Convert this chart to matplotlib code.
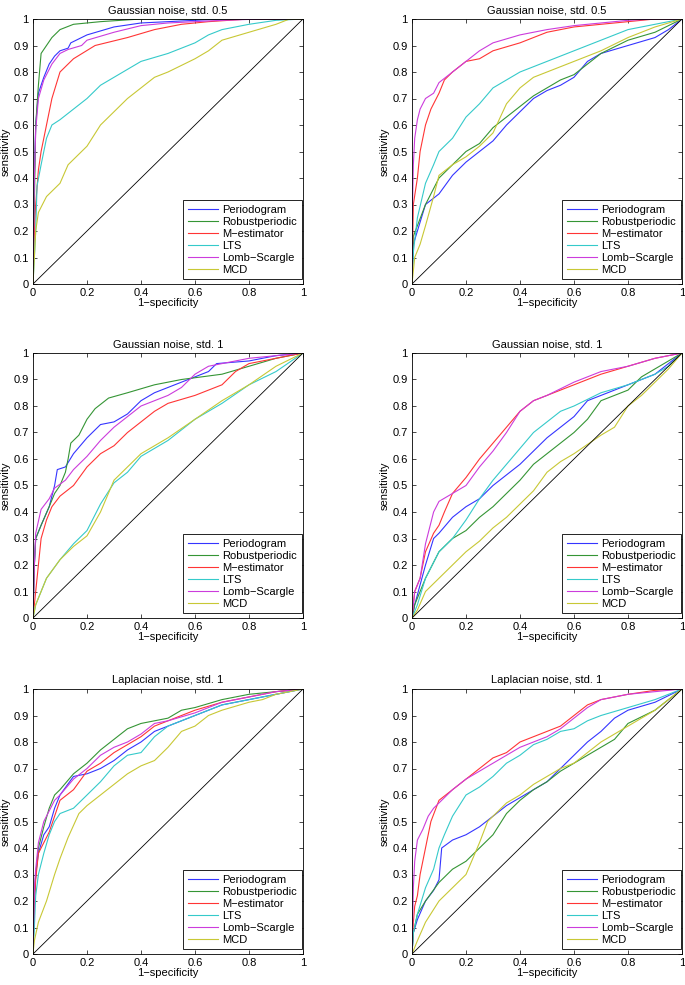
import numpy as np
import matplotlib
matplotlib.use("Agg")
import matplotlib.pyplot as plt

plt.rcParams['font.family'] = ['Liberation Sans', 'DejaVu Sans']

METHODS = ["Periodogram", "Robustperiodic", "M\u2212estimator", "LTS", "Lomb\u2212Scargle", "MCD"]
COLORS = ["#3535ff", "#359535", "#ff3535", "#35caca", "#cc3cdc", "#c8c835"]
TITLES = ["Gaussian noise, std. 0.5", "Gaussian noise, std. 0.5",
          "Gaussian noise, std. 1", "Gaussian noise, std. 1",
          "Laplacian noise, std. 1", "Laplacian noise, std. 1"]
X_TICKS = [0, 0.2, 0.4, 0.6, 0.8, 1]
Y_TICKS = [0, 0.1, 0.2, 0.3, 0.4, 0.5, 0.6, 0.7, 0.8, 0.9, 1]

# ---- Panel 1: Gaussian std 0.5 (left) ----
P1_PERIODOGRAM = [(0,0),(0.005,0.4),(0.01,0.6),(0.02,0.72),(0.04,0.78),(0.06,0.83),(0.08,0.86),(0.1,0.88),(0.13,0.89),(0.14,0.91),(0.2,0.94),(0.3,0.97),(0.4,0.985),(0.6,0.995),(0.7,1),(1,1)]
P1_ROBUST = [(0,0),(0.005,0.3),(0.01,0.6),(0.02,0.75),(0.03,0.87),(0.05,0.9),(0.07,0.93),(0.1,0.96),(0.15,0.98),(0.25,0.99),(0.4,1.0),(1,1)]
P1_MEST = [(0,0),(0.005,0.2),(0.01,0.3),(0.02,0.43),(0.03,0.5),(0.05,0.6),(0.07,0.7),(0.1,0.8),(0.15,0.85),(0.23,0.9),(0.35,0.93),(0.45,0.96),(0.55,0.98),(0.65,0.99),(0.8,1),(1,1)]
P1_LTS = [(0,0),(0.005,0.1),(0.01,0.2),(0.015,0.37),(0.03,0.45),(0.05,0.55),(0.07,0.6),(0.1,0.62),(0.15,0.66),(0.2,0.7),(0.25,0.75),(0.3,0.78),(0.4,0.84),(0.5,0.87),(0.6,0.91),(0.65,0.94),(0.7,0.96),(0.8,0.98),(0.9,0.995),(1,1)]
P1_LOMB = [(0,0),(0.005,0.4),(0.01,0.58),(0.02,0.7),(0.04,0.77),(0.07,0.83),(0.1,0.87),(0.13,0.885),(0.18,0.9),(0.2,0.92),(0.3,0.95),(0.4,0.975),(0.5,0.985),(0.7,0.995),(0.85,1),(1,1)]
P1_MCD = [(0,0),(0.005,0.1),(0.01,0.2),(0.02,0.27),(0.05,0.33),(0.1,0.38),(0.13,0.45),(0.2,0.52),(0.25,0.6),(0.3,0.65),(0.35,0.7),(0.4,0.74),(0.45,0.78),(0.5,0.8),(0.6,0.85),(0.65,0.88),(0.7,0.92),(0.8,0.95),(0.9,0.98),(0.95,1),(1,1)]

# ---- Panel 2: Gaussian std 0.5 (right) ----
P2_PERIODOGRAM = [(0,0),(0.005,0.15),(0.02,0.2),(0.05,0.3),(0.1,0.34),(0.15,0.41),(0.2,0.46),(0.25,0.5),(0.3,0.54),(0.35,0.6),(0.4,0.65),(0.45,0.7),(0.5,0.73),(0.55,0.75),(0.6,0.78),(0.65,0.84),(0.7,0.87),(0.8,0.9),(0.9,0.93),(0.95,0.96),(1,1)]
P2_ROBUST = [(0,0),(0.005,0.18),(0.02,0.22),(0.05,0.3),(0.1,0.4),(0.15,0.45),(0.2,0.5),(0.25,0.53),(0.3,0.59),(0.35,0.63),(0.4,0.67),(0.45,0.71),(0.5,0.74),(0.55,0.77),(0.6,0.79),(0.7,0.87),(0.8,0.92),(0.9,0.95),(1,1)]
P2_MEST = [(0,0),(0.005,0.3),(0.02,0.4),(0.03,0.5),(0.05,0.6),(0.07,0.66),(0.1,0.72),(0.12,0.77),(0.15,0.8),(0.2,0.84),(0.25,0.85),(0.3,0.88),(0.4,0.91),(0.5,0.95),(0.6,0.97),(0.7,0.98),(0.8,0.99),(0.9,1),(1,1)]
P2_LTS = [(0,0),(0.005,0.12),(0.02,0.25),(0.05,0.38),(0.08,0.45),(0.1,0.5),(0.15,0.55),(0.2,0.63),(0.25,0.68),(0.3,0.74),(0.4,0.8),(0.5,0.84),(0.6,0.88),(0.7,0.92),(0.8,0.96),(0.9,0.98),(1,1)]
P2_LOMB = [(0,0),(0.002,0.3),(0.005,0.45),(0.01,0.55),(0.02,0.62),(0.03,0.66),(0.05,0.7),(0.08,0.72),(0.1,0.76),(0.15,0.8),(0.2,0.84),(0.25,0.88),(0.3,0.91),(0.4,0.94),(0.5,0.96),(0.6,0.975),(0.7,0.985),(0.8,0.995),(0.9,1),(1,1)]
P2_MCD = [(0,0),(0.01,0.1),(0.03,0.15),(0.05,0.22),(0.08,0.33),(0.1,0.41),(0.15,0.45),(0.2,0.48),(0.25,0.52),(0.3,0.57),(0.35,0.68),(0.4,0.74),(0.45,0.78),(0.5,0.8),(0.55,0.82),(0.6,0.84),(0.7,0.88),(0.8,0.93),(0.9,0.97),(1,1)]

# ---- Panel 3: Gaussian std 1 (left) ----
P3_PERIODOGRAM = [(0,0),(0.005,0.2),(0.01,0.3),(0.03,0.35),(0.06,0.42),(0.08,0.5),(0.09,0.56),(0.12,0.57),(0.15,0.62),(0.2,0.68),(0.25,0.73),(0.3,0.74),(0.35,0.77),(0.4,0.82),(0.45,0.85),(0.5,0.87),(0.6,0.91),(0.65,0.93),(0.68,0.96),(0.8,0.97),(0.9,0.99),(1,1)]
P3_ROBUST = [(0,0),(0.005,0.2),(0.01,0.3),(0.03,0.35),(0.06,0.42),(0.08,0.47),(0.1,0.5),(0.12,0.55),(0.13,0.6),(0.14,0.66),(0.17,0.69),(0.2,0.75),(0.23,0.79),(0.28,0.83),(0.35,0.85),(0.45,0.88),(0.55,0.9),(0.7,0.92),(0.8,0.95),(0.9,0.98),(1,1)]
P3_MEST = [(0,0),(0.01,0.1),(0.02,0.2),(0.03,0.3),(0.05,0.37),(0.07,0.42),(0.1,0.46),(0.15,0.5),(0.2,0.57),(0.25,0.62),(0.3,0.65),(0.35,0.7),(0.4,0.74),(0.45,0.78),(0.5,0.81),(0.6,0.84),(0.7,0.88),(0.75,0.93),(0.8,0.96),(0.9,0.98),(1,1)]
P3_LTS = [(0,0),(0.01,0.05),(0.05,0.15),(0.1,0.22),(0.15,0.28),(0.2,0.33),(0.25,0.43),(0.3,0.51),(0.35,0.55),(0.4,0.61),(0.5,0.67),(0.6,0.75),(0.7,0.81),(0.8,0.88),(0.9,0.93),(1,1)]
P3_LOMB = [(0,0),(0.005,0.2),(0.01,0.32),(0.03,0.41),(0.06,0.45),(0.08,0.49),(0.12,0.52),(0.15,0.56),(0.2,0.61),(0.25,0.67),(0.3,0.72),(0.35,0.76),(0.4,0.8),(0.5,0.84),(0.55,0.87),(0.6,0.92),(0.65,0.95),(0.7,0.96),(0.8,0.98),(0.9,0.99),(1,1)]
P3_MCD = [(0,0),(0.01,0.05),(0.05,0.15),(0.1,0.22),(0.15,0.27),(0.2,0.31),(0.25,0.4),(0.3,0.52),(0.35,0.57),(0.4,0.62),(0.5,0.68),(0.6,0.75),(0.7,0.82),(0.8,0.88),(0.9,0.95),(1,1)]

# ---- Panel 4: Gaussian std 1 (right) ----
P4_PERIODOGRAM = [(0,0),(0.01,0.05),(0.05,0.2),(0.08,0.3),(0.1,0.32),(0.15,0.38),(0.2,0.42),(0.25,0.45),(0.3,0.5),(0.35,0.54),(0.4,0.58),(0.45,0.63),(0.5,0.68),(0.55,0.72),(0.6,0.76),(0.65,0.82),(0.7,0.84),(0.8,0.88),(0.9,0.92),(1,1)]
P4_ROBUST = [(0,0),(0.01,0.05),(0.05,0.15),(0.1,0.25),(0.15,0.3),(0.2,0.33),(0.25,0.38),(0.3,0.42),(0.35,0.47),(0.4,0.52),(0.45,0.58),(0.5,0.62),(0.55,0.66),(0.6,0.7),(0.65,0.75),(0.7,0.82),(0.8,0.86),(0.85,0.91),(0.9,0.94),(0.95,0.97),(1,1)]
P4_MEST = [(0,0),(0.01,0.1),(0.03,0.15),(0.05,0.25),(0.08,0.32),(0.1,0.35),(0.12,0.4),(0.15,0.47),(0.2,0.53),(0.25,0.6),(0.3,0.66),(0.35,0.72),(0.4,0.78),(0.45,0.82),(0.5,0.84),(0.6,0.88),(0.7,0.92),(0.8,0.95),(0.9,0.98),(1,1)]
P4_LTS = [(0,0),(0.02,0.05),(0.05,0.15),(0.1,0.25),(0.15,0.3),(0.2,0.37),(0.25,0.45),(0.3,0.52),(0.35,0.58),(0.4,0.64),(0.45,0.7),(0.5,0.74),(0.55,0.78),(0.6,0.8),(0.7,0.85),(0.8,0.88),(0.9,0.92),(0.95,0.95),(1,1)]
P4_LOMB = [(0,0),(0.01,0.1),(0.03,0.15),(0.05,0.28),(0.08,0.4),(0.1,0.44),(0.15,0.47),(0.2,0.5),(0.25,0.57),(0.3,0.63),(0.35,0.7),(0.4,0.78),(0.45,0.82),(0.5,0.84),(0.6,0.89),(0.7,0.93),(0.8,0.95),(0.9,0.98),(1,1)]
P4_MCD = [(0,0),(0.02,0.03),(0.05,0.1),(0.1,0.15),(0.15,0.2),(0.2,0.25),(0.25,0.29),(0.3,0.34),(0.35,0.38),(0.4,0.43),(0.45,0.48),(0.5,0.55),(0.55,0.59),(0.6,0.62),(0.7,0.69),(0.75,0.72),(0.8,0.8),(0.85,0.84),(0.9,0.89),(0.95,0.94),(1,1)]

# ---- Panel 5: Laplacian std 1 (left) ----
P5_PERIODOGRAM = [(0,0),(0.005,0.2),(0.01,0.3),(0.02,0.38),(0.04,0.45),(0.06,0.48),(0.08,0.55),(0.1,0.6),(0.15,0.67),(0.2,0.68),(0.25,0.7),(0.3,0.73),(0.35,0.77),(0.4,0.8),(0.45,0.84),(0.5,0.86),(0.6,0.9),(0.7,0.94),(0.8,0.96),(0.9,0.98),(1,1)]
P5_ROBUST = [(0,0),(0.005,0.2),(0.01,0.3),(0.02,0.4),(0.04,0.48),(0.06,0.55),(0.08,0.6),(0.1,0.62),(0.15,0.68),(0.2,0.72),(0.25,0.77),(0.3,0.81),(0.35,0.85),(0.4,0.87),(0.5,0.89),(0.55,0.92),(0.6,0.93),(0.7,0.96),(0.8,0.98),(0.9,0.99),(1,1)]
P5_MEST = [(0,0),(0.005,0.2),(0.01,0.28),(0.02,0.38),(0.04,0.42),(0.06,0.46),(0.08,0.52),(0.1,0.58),(0.15,0.62),(0.2,0.69),(0.25,0.72),(0.3,0.76),(0.35,0.79),(0.4,0.82),(0.45,0.86),(0.5,0.88),(0.6,0.92),(0.7,0.95),(0.8,0.97),(0.9,0.99),(1,1)]
P5_LTS = [(0,0),(0.005,0.1),(0.01,0.22),(0.02,0.3),(0.04,0.38),(0.06,0.45),(0.08,0.5),(0.1,0.53),(0.15,0.55),(0.2,0.6),(0.25,0.65),(0.3,0.71),(0.35,0.75),(0.4,0.76),(0.45,0.82),(0.5,0.86),(0.6,0.9),(0.7,0.94),(0.8,0.96),(0.9,0.98),(1,1)]
P5_LOMB = [(0,0),(0.005,0.25),(0.01,0.32),(0.02,0.42),(0.04,0.5),(0.06,0.54),(0.08,0.58),(0.1,0.6),(0.15,0.66),(0.2,0.7),(0.25,0.75),(0.3,0.78),(0.35,0.8),(0.4,0.83),(0.45,0.87),(0.5,0.88),(0.6,0.91),(0.7,0.95),(0.8,0.97),(0.9,0.99),(1,1)]
P5_MCD = [(0,0),(0.005,0.05),(0.02,0.12),(0.05,0.2),(0.08,0.3),(0.1,0.36),(0.13,0.44),(0.17,0.53),(0.2,0.56),(0.25,0.6),(0.3,0.64),(0.35,0.68),(0.4,0.71),(0.45,0.73),(0.5,0.78),(0.55,0.84),(0.6,0.86),(0.65,0.9),(0.7,0.92),(0.8,0.95),(0.85,0.96),(0.9,0.98),(1,1)]

# ---- Panel 6: Laplacian std 1 (right) ----
P6_PERIODOGRAM = [(0,0),(0.005,0.08),(0.02,0.13),(0.05,0.2),(0.08,0.24),(0.1,0.28),(0.11,0.4),(0.15,0.43),(0.2,0.45),(0.25,0.48),(0.3,0.52),(0.35,0.56),(0.4,0.59),(0.45,0.62),(0.5,0.65),(0.55,0.7),(0.6,0.75),(0.65,0.8),(0.7,0.84),(0.75,0.89),(0.8,0.92),(0.9,0.95),(1,1)]
P6_ROBUST = [(0,0),(0.005,0.08),(0.02,0.15),(0.05,0.2),(0.1,0.27),(0.15,0.32),(0.2,0.35),(0.25,0.4),(0.3,0.45),(0.35,0.53),(0.4,0.58),(0.45,0.62),(0.5,0.65),(0.55,0.69),(0.6,0.72),(0.65,0.75),(0.7,0.78),(0.75,0.81),(0.8,0.87),(0.9,0.92),(1,1)]
P6_MEST = [(0,0),(0.005,0.12),(0.01,0.18),(0.02,0.22),(0.03,0.3),(0.05,0.4),(0.07,0.5),(0.1,0.58),(0.15,0.62),(0.2,0.66),(0.25,0.7),(0.3,0.74),(0.35,0.76),(0.4,0.8),(0.45,0.82),(0.5,0.84),(0.55,0.86),(0.6,0.9),(0.65,0.94),(0.7,0.96),(0.8,0.98),(0.9,0.995),(1,1)]
P6_LTS = [(0,0),(0.005,0.08),(0.02,0.15),(0.05,0.25),(0.08,0.32),(0.1,0.4),(0.12,0.45),(0.15,0.52),(0.2,0.6),(0.25,0.63),(0.3,0.67),(0.35,0.72),(0.4,0.75),(0.45,0.79),(0.5,0.81),(0.55,0.84),(0.6,0.85),(0.65,0.88),(0.7,0.9),(0.8,0.93),(0.9,0.96),(1,1)]
P6_LOMB = [(0,0),(0.005,0.25),(0.01,0.35),(0.02,0.43),(0.04,0.47),(0.06,0.52),(0.08,0.55),(0.1,0.57),(0.15,0.62),(0.2,0.66),(0.25,0.69),(0.3,0.72),(0.35,0.75),(0.4,0.78),(0.45,0.8),(0.5,0.82),(0.55,0.85),(0.6,0.89),(0.65,0.93),(0.7,0.96),(0.8,0.98),(0.9,0.99),(1,1)]
P6_MCD = [(0,0),(0.02,0.05),(0.05,0.12),(0.1,0.2),(0.15,0.25),(0.2,0.3),(0.25,0.42),(0.28,0.5),(0.3,0.52),(0.35,0.57),(0.4,0.6),(0.45,0.64),(0.5,0.67),(0.55,0.7),(0.6,0.72),(0.65,0.76),(0.7,0.8),(0.8,0.86),(0.9,0.92),(1,1)]

PANELS = [
    [P1_PERIODOGRAM, P1_ROBUST, P1_MEST, P1_LTS, P1_LOMB, P1_MCD],
    [P2_PERIODOGRAM, P2_ROBUST, P2_MEST, P2_LTS, P2_LOMB, P2_MCD],
    [P3_PERIODOGRAM, P3_ROBUST, P3_MEST, P3_LTS, P3_LOMB, P3_MCD],
    [P4_PERIODOGRAM, P4_ROBUST, P4_MEST, P4_LTS, P4_LOMB, P4_MCD],
    [P5_PERIODOGRAM, P5_ROBUST, P5_MEST, P5_LTS, P5_LOMB, P5_MCD],
    [P6_PERIODOGRAM, P6_ROBUST, P6_MEST, P6_LTS, P6_LOMB, P6_MCD],
]

W, H = 685, 985
fig = plt.figure(figsize=(W / 100, H / 100), dpi=100)

col_left = [33, 412]
row_top = [19, 353, 689]
aw, ah = 270, 265
FS = 8

for i, curves in enumerate(PANELS):
    r, c = divmod(i, 2)
    l = col_left[c]
    t = row_top[r]
    ax = fig.add_axes([l / W, 1 - (t + ah) / H, aw / W, ah / H])
    for pts, name, col in zip(curves, METHODS, COLORS):
        arr = np.array(pts, dtype=float)
        ax.plot(arr[:, 0], arr[:, 1], color=col, lw=0.8, label=name)
    ax.plot([0, 1], [0, 1], color='black', lw=0.6)
    ax.set_xlim(0, 1)
    ax.set_ylim(0, 1)
    ax.set_xticks(X_TICKS)
    ax.set_yticks(Y_TICKS)
    ax.set_xticklabels([f"{v:g}" for v in X_TICKS])
    ax.set_yticklabels([f"{v:g}" for v in Y_TICKS])
    ax.tick_params(direction='in', length=3, width=0.5, labelsize=FS, top=True, right=True, pad=3)
    for s in ax.spines.values():
        s.set_linewidth(0.6)
    ax.set_title(TITLES[i], fontsize=FS, pad=4)
    ax.set_xlabel("1\u2212specificity", fontsize=FS, labelpad=0)
    ax.set_ylabel("sensitivity", fontsize=FS, labelpad=2)
    leg = ax.legend(loc='lower right', fontsize=FS, frameon=True, fancybox=False,
                    edgecolor='black', framealpha=1, handlelength=2.7,
                    handletextpad=0.4, labelspacing=0.18, borderpad=0.4,
                    borderaxespad=0.0, bbox_to_anchor=(1 - 1.5 / aw, 5.0 / ah))
    leg.get_frame().set_linewidth(0.6)

fig.savefig("out.png", dpi=100)
